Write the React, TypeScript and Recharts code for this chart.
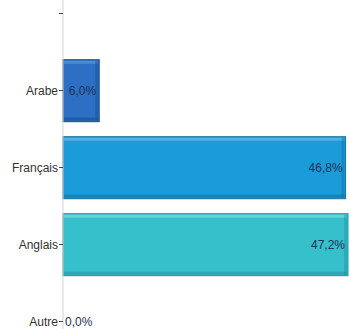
import { BarChart, Bar, XAxis, YAxis, LabelList } from "recharts";

const languages = ["", "Arabe", "Français", "Anglais", "Autre"];
const shares = [null, 6.0, 46.8, 47.2, 0.0];

const fills = ["#ffffff", "#2c6fc4", "#1b9bd7", "#35c0cc", "#35c0cc"];
const tops = ["#ffffff", "#4d8ad4", "#4cb5e4", "#66d2da", "#66d2da"];
const edges = ["#ffffff", "#1d4d8c", "#13709e", "#26929b", "#26929b"];

const data = languages.map((name, i) => ({ name, share: shares[i] }));

const narrow = "'Liberation Sans Narrow', 'Arial Narrow', 'Liberation Sans', Arial, sans-serif";

function BevelBar(props: any) {
  const { x, y, width, height, payload } = props;
  if (!width || width <= 0) return null;
  const i = Math.max(0, languages.indexOf(payload?.name));
  return (
    <g>
      <rect x={x} y={y} width={width} height={height} fill={fills[i]} stroke={edges[i]} strokeWidth={1} />
      <rect x={x + 1} y={y + 1} width={width - 2} height={3} fill={tops[i]} />
      <rect x={x + 1} y={y + height - 4} width={width - 2} height={3} fill={edges[i]} opacity={0.55} />
      <rect x={x + width - 4} y={y + 1} width={3} height={height - 2} fill={edges[i]} opacity={0.45} />
    </g>
  );
}

function ShareLabel(props: any) {
  const { x, y, width, height, value } = props;
  if (value == null) return null;
  const text = `${Number(value).toFixed(1).replace(".", ",")}%`;
  const small = width < 20;
  return (
    <text
      x={small ? x + 2 : x + width - 3}
      y={y + height / 2}
      textAnchor={small ? "start" : "end"}
      dominantBaseline="central"
      fontFamily={narrow}
      fontSize={12}
      fill="#1f3354"
    >
      {text}
    </text>
  );
}

export default function App() {
  return (
    <div
      style={{
        position: "fixed",
        top: 0,
        left: 0,
        width: 349,
        height: 329,
        overflow: "hidden",
        background: "#fff",
      }}
    >
      <div style={{ position: "absolute", top: -25, left: 0 }}>
        <BarChart
          width={349}
          height={385}
          data={data}
          layout="vertical"
          barCategoryGap="10%"
          margin={{ top: 0, right: 1, bottom: 0, left: 0 }}
        >
          <XAxis type="number" domain={[0, 47.2]} hide />
          <YAxis
            type="category"
            dataKey="name"
            width={63}
            axisLine={{ stroke: "#d4d4d4" }}
            tickLine={{ stroke: "#444" }}
            tickSize={4}
            tickMargin={1}
            tick={{ fill: "#333", fontSize: 12, fontFamily: narrow }}
          />
          <Bar dataKey="share" shape={<BevelBar />} isAnimationActive={false}>
            <LabelList dataKey="share" content={<ShareLabel />} />
          </Bar>
        </BarChart>
      </div>
    </div>
  );
}
